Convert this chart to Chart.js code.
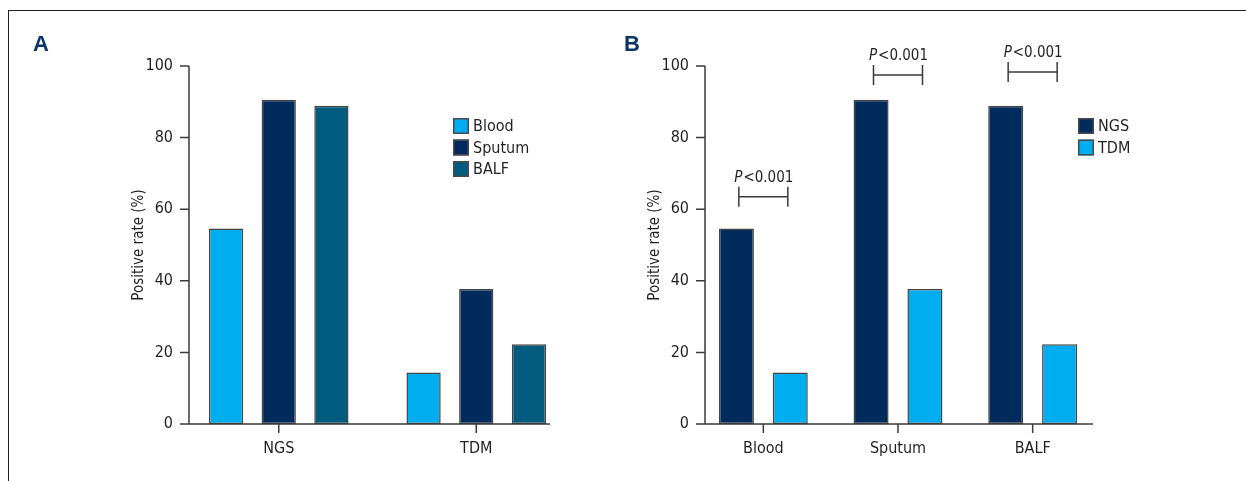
<!DOCTYPE html>
<html>
<head>
<meta charset="utf-8">
<script src="https://cdn.jsdelivr.net/npm/chart.js@4.4.1/dist/chart.umd.min.js"></script>
<style>
  html, body { margin: 0; padding: 0; background: #fff; }
  #page { position: relative; width: 1246px; height: 481px; overflow: hidden; background: #fff; }
  #frame { position: absolute; left: 8px; top: 10px; right: -4px; bottom: -4px;
           border-top: 1.5px solid #231f20; border-left: 1.5px solid #231f20; }
  .panel { position: absolute; top: 0; height: 481px; }
  #panelA { left: 0; width: 600px; }
  #panelB { left: 600px; width: 646px; }
  .tag { position: absolute; top: 31px; font: bold 22px "Liberation Sans", Arial, sans-serif; color: #0b3468; }
</style>
</head>
<body>
<div id="page">
  <div id="frame"></div>
  <div class="panel" id="panelA"><canvas id="chartA"></canvas></div>
  <div class="panel" id="panelB"><canvas id="chartB"></canvas></div>
  <div class="tag" style="left:33px">A</div>
  <div class="tag" style="left:624px">B</div>
</div>
<script>
// Data
const methods = ['NGS', 'TDM'];
const specimens = ['Blood', 'Sputum', 'BALF'];
const ngsRate = [54.6, 90.6, 88.9];   // Blood, Sputum, BALF
const tdmRate = [14.4, 37.7, 22.3];
const yTicks = [0, 20, 40, 60, 80, 100];
const pLabels = ['P<0.001', 'P<0.001', 'P<0.001'];
const pLevels = [63.5, 97.5, 98.3];

const colors = {
  Blood: '#00aeef', Sputum: '#002b5c', BALF: '#005b7f',
  NGS: '#002b5c', TDM: '#00aeef'
};
const fontFamily = '"Liberation Sans Narrow", "DejaVu Sans Condensed", sans-serif';
const fontSize = 16;
const smallSize = 15;
const textColor = '#231f20';
const lineColor = '#3a3a3a';

Chart.defaults.font.family = fontFamily;
Chart.defaults.font.size = fontSize;
Chart.defaults.color = textColor;

// axis lines: y axis sits one tick length right of the chart area edge
const axisLines = {
  id: 'axisLines',
  afterDraw(chart, args, opts) {
    const { ctx, chartArea, scales: { x, y } } = chart;
    const axisX = chartArea.left + opts.tick;
    ctx.save();
    ctx.strokeStyle = lineColor;
    ctx.lineWidth = 1.5;
    ctx.beginPath();
    ctx.moveTo(axisX, y.top);
    ctx.lineTo(axisX, y.bottom);
    y.ticks.forEach(t => {
      const py = y.getPixelForValue(t.value);
      ctx.moveTo(chartArea.left, py);
      ctx.lineTo(axisX, py);
    });
    ctx.moveTo(chartArea.left, y.bottom);
    ctx.lineTo(opts.xEnd, y.bottom);
    x.ticks.forEach((t, i) => {
      const px = x.getPixelForTick(i);
      ctx.moveTo(px, y.bottom);
      ctx.lineTo(px, y.bottom + opts.tick);
    });
    ctx.stroke();
    ctx.restore();
  }
};

const boxLegend = {
  id: 'boxLegend',
  afterDraw(chart, args, opts) {
    const ctx = chart.ctx;
    ctx.save();
    ctx.font = fontSize + 'px ' + fontFamily;
    ctx.textBaseline = 'middle';
    ctx.textAlign = 'left';
    chart.data.datasets.forEach((ds, i) => {
      const top = opts.y + i * opts.row;
      ctx.fillStyle = ds.backgroundColor;
      ctx.fillRect(opts.x, top, opts.box, opts.box);
      ctx.strokeStyle = '#4a4a4a';
      ctx.lineWidth = 1.5;
      ctx.strokeRect(opts.x + 0.75, top + 0.75, opts.box - 1.5, opts.box - 1.5);
      ctx.fillStyle = textColor;
      ctx.fillText(ds.label, opts.x + opts.box + 4, top + opts.box / 2 + 1);
    });
    ctx.restore();
  }
};

const pBrackets = {
  id: 'pBrackets',
  afterDraw(chart, args, opts) {
    if (!opts.labels) return;
    const { ctx, scales: { x, y } } = chart;
    ctx.save();
    opts.labels.forEach((lab, i) => {
      const cx = x.getPixelForValue(i);
      const py = y.getPixelForValue(opts.levels[i]);
      const half = opts.half;
      ctx.strokeStyle = lineColor;
      ctx.lineWidth = 1.5;
      ctx.beginPath();
      ctx.moveTo(cx - half, py); ctx.lineTo(cx + half, py);
      ctx.moveTo(cx - half, py - 10); ctx.lineTo(cx - half, py + 10);
      ctx.moveTo(cx + half, py - 10); ctx.lineTo(cx + half, py + 10);
      ctx.stroke();
      // italic P, upright rest
      const head = lab.charAt(0), rest = lab.slice(1);
      ctx.textBaseline = 'alphabetic';
      ctx.textAlign = 'left';
      ctx.font = 'italic ' + smallSize + 'px ' + fontFamily;
      const w1 = ctx.measureText(head).width;
      ctx.font = smallSize + 'px ' + fontFamily;
      const w2 = ctx.measureText(rest).width;
      const sx = cx - (w1 + w2) / 2;
      ctx.fillStyle = textColor;
      ctx.font = 'italic ' + smallSize + 'px ' + fontFamily;
      ctx.fillText(head, sx, py - 15);
      ctx.font = smallSize + 'px ' + fontFamily;
      ctx.fillText(rest, sx + w1 + 1, py - 15);
    });
    ctx.restore();
  }
};

function baseOptions(pad, yWidth, titlePad, catPct, xEnd, legendPos, brackets) {
  return {
    responsive: true,
    maintainAspectRatio: false,
    animation: false,
    layout: { padding: pad },
    scales: {
      x: {
        grid: { display: false, drawTicks: false },
        border: { display: false },
        categoryPercentage: catPct,
        ticks: { padding: 15, color: textColor },
        afterFit(scale) { scale.height = 57; }
      },
      y: {
        min: 0, max: 100,
        afterBuildTicks(scale) { scale.ticks = yTicks.map(v => ({ value: v })); },
        grid: { display: false, drawTicks: false },
        border: { display: false },
        ticks: { padding: 7, color: textColor },
        title: { display: true, text: 'Positive rate (%)', color: textColor,
                 font: { size: smallSize }, padding: { top: titlePad, bottom: 0 } },
        afterFit(scale) { scale.width = yWidth; }
      }
    },
    plugins: {
      legend: { display: false },
      tooltip: { enabled: false },
      axisLines: { tick: 9, xEnd: xEnd },
      boxLegend: legendPos,
      pBrackets: brackets
    }
  };
}

const barStyle = { borderColor: '#454545', borderWidth: 1.5, borderSkipped: false, barPercentage: 0.65 };

// Panel A: grouped by method, one dataset per specimen
new Chart(document.getElementById('chartA'), {
  type: 'bar',
  data: {
    labels: methods,
    datasets: specimens.map((s, i) => Object.assign({
      label: s,
      data: [ngsRate[i], tdmRate[i]],
      backgroundColor: colors[s]
    }, barStyle))
  },
  options: baseOptions({ left: 120, right: 25, top: 66, bottom: 0 }, 60, 10, 0.82, 550,
                       { x: 453, y: 118, row: 21.5, box: 16 }, {}),
  plugins: [axisLines, boxLegend, pBrackets]
});

// Panel B: grouped by specimen, NGS vs TDM
new Chart(document.getElementById('chartB'), {
  type: 'bar',
  data: {
    labels: specimens,
    datasets: [
      Object.assign({ label: 'NGS', data: ngsRate, backgroundColor: colors.NGS }, barStyle),
      Object.assign({ label: 'TDM', data: tdmRate, backgroundColor: colors.TDM }, barStyle)
    ]
  },
  options: baseOptions({ left: 36, right: 146, top: 66, bottom: 0 }, 60, 10, 0.803, 493,
                       { x: 478, y: 118, row: 21.5, box: 16 },
                       { labels: pLabels, levels: pLevels, half: 24.5 }),
  plugins: [axisLines, boxLegend, pBrackets]
});
</script>
</body>
</html>
